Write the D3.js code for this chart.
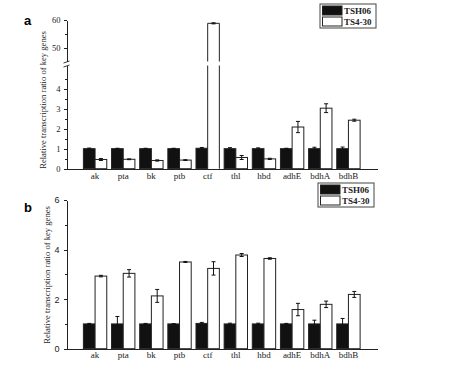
<!DOCTYPE html>
<html lang="en">
<head>
    <meta charset="UTF-8">
    <title>Relative transcription ratio of key genes</title>
    <script src="https://cdn.jsdelivr.net/npm/d3@7"></script>
    <style>
        body { margin: 0; background: #fff; }
        .axis path, .axis line { stroke: #222; shape-rendering: crispEdges; }
        .serif { font-family: "Liberation Serif", "Times New Roman", serif; }
    </style>
</head>
<body>
    <div id="chart"></div>

    <script>
        // data
        const genes = ["ak", "pta", "bk", "ptb", "ctf", "thl", "hbd", "adhE", "bdhA", "bdhB"];
        const seriesNames = ["TSH06", "TS4-30"];

        // panel a
        const aTSH06    = [1.0, 1.0, 1.0, 1.0, 1.02, 1.0, 1.0, 1.0, 1.0, 1.0];
        const aTSH06Err = [0.03, 0.02, 0.02, 0.02, 0.04, 0.05, 0.04, 0.02, 0.07, 0.08];
        const aTS430    = [0.46, 0.47, 0.41, 0.43, 58.8, 0.56, 0.49, 2.08, 3.02, 2.42];
        const aTS430Err = [0.05, 0.02, 0.03, 0.02, 0.2, 0.1, 0.03, 0.28, 0.22, 0.05];
        const aLowTicks = [0, 1, 2, 3, 4];
        const aHighTicks = [50, 60];

        // panel b
        const bTSH06    = [1.0, 1.0, 1.0, 1.0, 1.02, 1.0, 1.0, 1.0, 1.0, 1.0];
        const bTSH06Err = [0.02, 0.3, 0.02, 0.01, 0.04, 0.03, 0.03, 0.02, 0.15, 0.22];
        const bTS430    = [2.93, 3.04, 2.13, 3.5, 3.24, 3.78, 3.64, 1.58, 1.79, 2.19];
        const bTS430Err = [0.03, 0.15, 0.26, 0.02, 0.27, 0.06, 0.03, 0.25, 0.13, 0.12];
        const bTicks = [0, 2, 4, 6];

        const yTitle = "Relative transcription ratio of key genes";
        const W = 458, H = 369;

        const svg = d3.select("#chart").append("svg")
            .attr("width", W)
            .attr("height", H);

        const x = d3.scaleBand().domain(genes).range([66.5, 377])
            .paddingInner(0.17).paddingOuter(0.6);
        const xs = d3.scaleBand().domain(seriesNames).range([0, x.bandwidth()]);
        const fmt = d3.format("d");

        function rows(v1, e1, v2, e2) {
            return genes.map((g, i) => [
                { gene: g, s: seriesNames[0], v: v1[i], e: e1[i] },
                { gene: g, s: seriesNames[1], v: v2[i], e: e2[i] }
            ]).flat();
        }

        function xAxis(g, y0, pad) {
            g.append("g")
                .attr("class", "axis serif")
                .attr("transform", "translate(0," + y0 + ")")
                .call(d3.axisBottom(x).tickSize(0).tickPadding(pad))
                .call(a => a.selectAll("text").attr("font-size", 9)
                    .attr("font-family", "Liberation Serif").attr("fill", "#222"));
        }

        function legend(g, lx, ly) {
            g.append("rect").attr("x", lx).attr("y", ly).attr("width", 56).attr("height", 24)
                .attr("fill", "#fff").attr("stroke", "#444");
            seriesNames.forEach((s, i) => {
                g.append("rect")
                    .attr("x", lx + 2.5).attr("y", ly + 2 + i * 11)
                    .attr("width", 19.5).attr("height", 9)
                    .attr("fill", i === 0 ? "#111" : "#fff")
                    .attr("stroke", "#222");
                g.append("text")
                    .attr("class", "serif")
                    .attr("x", lx + 24).attr("y", ly + 9.5 + i * 11)
                    .attr("font-size", 9).attr("font-weight", 600).attr("fill", "#222")
                    .text(s);
            });
        }

        function errBar(g, cx, yLo, yHi) {
            g.append("line").attr("x1", cx).attr("x2", cx).attr("y1", yLo).attr("y2", yHi)
                .attr("stroke", "#111");
            g.append("line").attr("x1", cx - 2).attr("x2", cx + 2).attr("y1", yHi).attr("y2", yHi)
                .attr("stroke", "#111");
            g.append("line").attr("x1", cx - 2).attr("x2", cx + 2).attr("y1", yLo).attr("y2", yLo)
                .attr("stroke", "#111");
        }

        function yTitleText(g, tx, ty) {
            g.append("text")
                .attr("class", "serif")
                .attr("transform", "translate(" + tx + "," + ty + ") rotate(-90)")
                .attr("text-anchor", "middle")
                .attr("font-size", 8.6).attr("fill", "#222")
                .text(yTitle);
        }

        // ---------- panel a (broken axis) ----------
        const ga = svg.append("g");
        const yLow = d3.scaleLinear().domain([0, 5.15]).range([168.7, 65.5]);
        const yHigh = d3.scaleLinear().domain([45, 60]).range([61.5, 20]);
        const breakAt = 5.15;

        ga.append("g").attr("class", "axis serif").attr("transform", "translate(66.5,0)")
            .call(d3.axisLeft(yLow).tickValues(aLowTicks).tickFormat(fmt).tickSize(3).tickSizeOuter(0).tickPadding(3));
        ga.append("g").attr("class", "axis").attr("transform", "translate(66.5,0)")
            .call(d3.axisLeft(yLow).tickValues([0.5, 1.5, 2.5, 3.5, 4.5]).tickSize(1.5).tickSizeOuter(0).tickFormat(""));
        ga.append("g").attr("class", "axis serif").attr("transform", "translate(66.5,0)")
            .call(d3.axisLeft(yHigh).tickValues(aHighTicks).tickFormat(fmt).tickSize(3).tickSizeOuter(0).tickPadding(3));
        ga.append("g").attr("class", "axis").attr("transform", "translate(66.5,0)")
            .call(d3.axisLeft(yHigh).tickValues([55]).tickSize(1.5).tickSizeOuter(0).tickFormat(""));
        ga.selectAll(".axis text").attr("font-size", 8.5).attr("font-family", "Liberation Serif").attr("fill", "#222");

        // break marks on the axis
        [yLow(breakAt) + 0.5, yHigh(45) + 0.5].forEach(by => {
            ga.append("line").attr("x1", 63.5).attr("x2", 69.5)
                .attr("y1", by + 1).attr("y2", by - 1)
                .attr("stroke", "#222").attr("stroke-width", 0.9);
        });

        xAxis(ga, 168.7, 4);

        const aRows = rows(aTSH06, aTSH06Err, aTS430, aTS430Err);
        aRows.forEach(d => {
            const bx = x(d.gene) + xs(d.s);
            const bw = xs.bandwidth();
            const y0 = yLow(0);
            const dark = d.s === seriesNames[0];
            if (d.v <= breakAt) {
                const yt = yLow(d.v);
                ga.append("rect").attr("x", bx).attr("y", yt).attr("width", bw).attr("height", y0 - yt)
                    .attr("fill", dark ? "#111" : "#fff").attr("stroke", "#222").attr("stroke-width", 1);
                errBar(ga, bx + bw / 2, yLow(d.v - d.e), yLow(d.v + d.e));
            } else {
                const yb = yLow(breakAt), yh = yHigh(45), yt = yHigh(d.v);
                ga.append("rect").attr("x", bx).attr("y", yb).attr("width", bw).attr("height", y0 - yb)
                    .attr("fill", "#fff");
                ga.append("rect").attr("x", bx).attr("y", yt).attr("width", bw).attr("height", yh - yt)
                    .attr("fill", "#fff");
                ga.append("path")
                    .attr("d", "M" + bx + "," + y0 + "V" + yb + "M" + (bx + bw) + "," + yb + "V" + y0 +
                        "M" + bx + "," + yh + "V" + yt + "H" + (bx + bw) + "V" + yh)
                    .attr("fill", "none").attr("stroke", "#222");
                errBar(ga, bx + bw / 2, yHigh(d.v - d.e), yHigh(d.v + d.e));
            }
        });

        legend(ga, 320, 4);
        yTitleText(ga, 46, 100);
        ga.append("text").attr("x", 24).attr("y", 25)
            .attr("font-family", "Liberation Sans").attr("font-weight", "bold").attr("font-size", 13)
            .text("a");

        // ---------- panel b ----------
        const gb = svg.append("g");
        const yB = d3.scaleLinear().domain([0, 6]).range([348.7, 200]);

        gb.append("g").attr("class", "axis").attr("transform", "translate(66.5,0)")
            .call(d3.axisLeft(yB).tickValues(bTicks).tickFormat(fmt).tickSize(3).tickSizeOuter(0).tickPadding(4))
            .call(a => a.selectAll("text").attr("font-size", 9).attr("font-family", "Liberation Sans").attr("fill", "#222"));
        gb.append("g").attr("class", "axis").attr("transform", "translate(66.5,0)")
            .call(d3.axisLeft(yB).tickValues([1, 3, 5]).tickSize(1.5).tickSizeOuter(0).tickFormat(""));

        xAxis(gb, 348.7, 3);

        const bRows = rows(bTSH06, bTSH06Err, bTS430, bTS430Err);
        gb.selectAll(".bar")
            .data(bRows)
            .enter().append("rect")
            .attr("class", "bar")
            .attr("x", d => x(d.gene) + xs(d.s))
            .attr("y", d => yB(d.v))
            .attr("width", xs.bandwidth())
            .attr("height", d => yB(0) - yB(d.v))
            .attr("fill", d => d.s === seriesNames[0] ? "#111" : "#fff")
            .attr("stroke", "#222");
        bRows.forEach(d => {
            errBar(gb, x(d.gene) + xs(d.s) + xs.bandwidth() / 2, yB(d.v - d.e), yB(d.v + d.e));
        });

        legend(gb, 318, 183);
        yTitleText(gb, 49.5, 275);
        gb.append("text").attr("x", 24).attr("y", 212)
            .attr("font-family", "Liberation Sans").attr("font-weight", "bold").attr("font-size", 13)
            .text("b");
    </script>
</body>
</html>
